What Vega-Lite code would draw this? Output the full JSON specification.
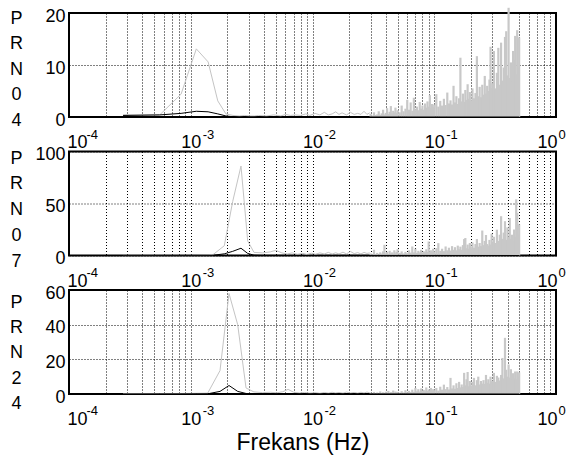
{
"$schema": "https://vega.github.io/schema/vega-lite/v6.json",
"background": "white",
"padding": {"left": 8, "top": 5, "right": 3, "bottom": 3},
"bounds": "flush",
"spacing": 34.5,
"config": {
  "font": "Liberation Sans",
  "view": {"stroke": "black", "strokeWidth": 2},
  "axis": {"labelColor": "#000", "titleColor": "#000", "labelFont": "Liberation Sans", "titleFont": "Liberation Sans", "gridColor": "#000", "gridDash": [1, 2], "gridOpacity": 1, "ticks": false, "tickSize": 0, "domain": false, "labelFontSize": 18, "titleFontWeight": "normal", "labelFlush": false, "labelOverlap": false}
},
"data": {"values": [
{"p":1,"s":"g","f":0.000278,"v":0.4},{"p":1,"s":"g","f":0.000556,"v":0.4},{"p":1,"s":"g","f":0.000833,"v":4.4},{"p":1,"s":"g","f":0.001111,"v":13.1},{"p":1,"s":"g","f":0.001389,"v":10.6},{"p":1,"s":"g","f":0.001667,"v":3.1},{"p":1,"s":"g","f":0.001944,"v":0.6},{"p":1,"s":"g","f":0.002222,"v":0.3},{"p":1,"s":"g","f":0.0025,"v":0.2},{"p":1,"s":"g","f":0.002778,"v":0.3},{"p":1,"s":"g","f":0.003056,"v":0.2},{"p":1,"s":"g","f":0.003333,"v":0.2},
{"p":1,"s":"g","f":0.0036,"v":0.3},{"p":1,"s":"g","f":0.0042,"v":0.2},{"p":1,"s":"g","f":0.0048,"v":0.4},{"p":1,"s":"g","f":0.0055,"v":0.2},{"p":1,"s":"g","f":0.006,"v":0.5},{"p":1,"s":"g","f":0.0066,"v":0.3},{"p":1,"s":"g","f":0.0072,"v":0.4},{"p":1,"s":"g","f":0.008,"v":0.3},{"p":1,"s":"g","f":0.0088,"v":0.6},{"p":1,"s":"g","f":0.0095,"v":0.3},{"p":1,"s":"g","f":0.0105,"v":0.7},{"p":1,"s":"g","f":0.0115,"v":0.4},{"p":1,"s":"g","f":0.0125,"v":0.9},{"p":1,"s":"g","f":0.0135,"v":0.4},{"p":1,"s":"g","f":0.0145,"v":0.6},{"p":1,"s":"g","f":0.0155,"v":1.0},{"p":1,"s":"g","f":0.0165,"v":0.5},{"p":1,"s":"g","f":0.0175,"v":0.8},{"p":1,"s":"g","f":0.019,"v":0.4},{"p":1,"s":"g","f":0.0205,"v":0.9},{"p":1,"s":"g","f":0.022,"v":0.5},{"p":1,"s":"g","f":0.0235,"v":0.7},{"p":1,"s":"g","f":0.025,"v":0.5},{"p":1,"s":"g","f":0.0265,"v":1.1},{"p":1,"s":"g","f":0.028,"v":0.5},{"p":1,"s":"g","f":0.0295,"v":0.8},
{"p":1,"s":"k","f":0.000278,"v":0.3},{"p":1,"s":"k","f":0.000556,"v":0.4},{"p":1,"s":"k","f":0.000833,"v":0.7},{"p":1,"s":"k","f":0.001111,"v":1.1},{"p":1,"s":"k","f":0.001389,"v":1.0},{"p":1,"s":"k","f":0.001667,"v":0.6},{"p":1,"s":"k","f":0.001944,"v":0.2},{"p":1,"s":"k","f":0.002222,"v":0.05},{"p":1,"s":"k","f":0.0025,"v":0},{"p":1,"s":"k","f":0.5,"v":0},
{"p":1,"s":"r","f":0.030,"v":0.6},{"p":1,"s":"r","f":0.031,"v":0.3},{"p":1,"s":"r","f":0.032,"v":0.9},{"p":1,"s":"r","f":0.033,"v":0.4},{"p":1,"s":"r","f":0.034,"v":0.5},{"p":1,"s":"r","f":0.035,"v":1.1},{"p":1,"s":"r","f":0.036,"v":0.4},{"p":1,"s":"r","f":0.037,"v":0.7},{"p":1,"s":"r","f":0.038,"v":1.4},{"p":1,"s":"r","f":0.039,"v":0.5},{"p":1,"s":"r","f":0.040,"v":0.8},{"p":1,"s":"r","f":0.041,"v":1.7},{"p":1,"s":"r","f":0.042,"v":0.6},{"p":1,"s":"r","f":0.043,"v":1.0},{"p":1,"s":"r","f":0.044,"v":2.1},{"p":1,"s":"r","f":0.045,"v":0.7},{"p":1,"s":"r","f":0.046,"v":1.2},{"p":1,"s":"r","f":0.047,"v":0.9},{"p":1,"s":"r","f":0.048,"v":1.8},{"p":1,"s":"r","f":0.049,"v":0.8},
{"p":1,"s":"r","f":0.050,"v":1.3},{"p":1,"s":"r","f":0.052,"v":0.9},{"p":1,"s":"r","f":0.054,"v":2.2},{"p":1,"s":"r","f":0.056,"v":1.1},{"p":1,"s":"r","f":0.058,"v":1.6},{"p":1,"s":"r","f":0.060,"v":3.3},{"p":1,"s":"r","f":0.062,"v":1.4},{"p":1,"s":"r","f":0.064,"v":2.8},{"p":1,"s":"r","f":0.066,"v":1.2},{"p":1,"s":"r","f":0.068,"v":3.7},{"p":1,"s":"r","f":0.070,"v":1.5},{"p":1,"s":"r","f":0.072,"v":2.0},{"p":1,"s":"r","f":0.074,"v":1.3},{"p":1,"s":"r","f":0.076,"v":2.9},{"p":1,"s":"r","f":0.078,"v":1.6},{"p":1,"s":"r","f":0.080,"v":2.2},{"p":1,"s":"r","f":0.082,"v":1.4},{"p":1,"s":"r","f":0.084,"v":2.6},{"p":1,"s":"r","f":0.086,"v":1.8},{"p":1,"s":"r","f":0.088,"v":3.0},{"p":1,"s":"r","f":0.090,"v":2.0},{"p":1,"s":"r","f":0.092,"v":4.2},{"p":1,"s":"r","f":0.094,"v":1.7},{"p":1,"s":"r","f":0.096,"v":2.5},{"p":1,"s":"r","f":0.098,"v":1.9},
{"p":1,"s":"r","f":0.100,"v":2.4},{"p":1,"s":"r","f":0.104,"v":4.4},{"p":1,"s":"r","f":0.108,"v":2.0},{"p":1,"s":"r","f":0.112,"v":3.1},{"p":1,"s":"r","f":0.116,"v":2.2},{"p":1,"s":"r","f":0.120,"v":3.5},{"p":1,"s":"r","f":0.124,"v":2.3},{"p":1,"s":"r","f":0.128,"v":4.7},{"p":1,"s":"r","f":0.132,"v":2.6},{"p":1,"s":"r","f":0.136,"v":3.2},{"p":1,"s":"r","f":0.140,"v":2.4},{"p":1,"s":"r","f":0.144,"v":6.0},{"p":1,"s":"r","f":0.148,"v":2.8},{"p":1,"s":"r","f":0.152,"v":4.0},{"p":1,"s":"r","f":0.156,"v":2.5},{"p":1,"s":"r","f":0.160,"v":3.6},{"p":1,"s":"r","f":0.164,"v":11.4},{"p":1,"s":"r","f":0.168,"v":3.0},{"p":1,"s":"r","f":0.172,"v":4.5},{"p":1,"s":"r","f":0.176,"v":2.9},{"p":1,"s":"r","f":0.180,"v":5.2},{"p":1,"s":"r","f":0.184,"v":3.3},{"p":1,"s":"r","f":0.188,"v":6.3},{"p":1,"s":"r","f":0.192,"v":3.5},{"p":1,"s":"r","f":0.196,"v":4.8},
{"p":1,"s":"r","f":0.200,"v":3.2},{"p":1,"s":"r","f":0.206,"v":5.5},{"p":1,"s":"r","f":0.212,"v":3.6},{"p":1,"s":"r","f":0.218,"v":4.6},{"p":1,"s":"r","f":0.224,"v":11.7},{"p":1,"s":"r","f":0.230,"v":4.0},{"p":1,"s":"r","f":0.236,"v":5.8},{"p":1,"s":"r","f":0.242,"v":3.8},{"p":1,"s":"r","f":0.248,"v":6.2},{"p":1,"s":"r","f":0.254,"v":4.3},{"p":1,"s":"r","f":0.260,"v":7.9},{"p":1,"s":"r","f":0.266,"v":4.5},{"p":1,"s":"r","f":0.272,"v":6.0},{"p":1,"s":"r","f":0.278,"v":5.0},{"p":1,"s":"r","f":0.284,"v":7.2},{"p":1,"s":"r","f":0.290,"v":13.5},{"p":1,"s":"r","f":0.296,"v":5.6},
{"p":1,"s":"r","f":0.300,"v":6.5},{"p":1,"s":"r","f":0.309,"v":12.7},{"p":1,"s":"r","f":0.318,"v":5.5},{"p":1,"s":"r","f":0.327,"v":8.5},{"p":1,"s":"r","f":0.336,"v":13.3},{"p":1,"s":"r","f":0.345,"v":6.2},{"p":1,"s":"r","f":0.354,"v":14.3},{"p":1,"s":"r","f":0.363,"v":7.0},{"p":1,"s":"r","f":0.372,"v":9.5},{"p":1,"s":"r","f":0.381,"v":15.4},{"p":1,"s":"r","f":0.390,"v":16.5},{"p":1,"s":"r","f":0.399,"v":8.0},{"p":1,"s":"r","f":0.408,"v":21.0},{"p":1,"s":"r","f":0.417,"v":7.5},{"p":1,"s":"r","f":0.426,"v":10.5},{"p":1,"s":"r","f":0.435,"v":6.8},{"p":1,"s":"r","f":0.444,"v":12.7},{"p":1,"s":"r","f":0.453,"v":11.0},{"p":1,"s":"r","f":0.462,"v":15.6},{"p":1,"s":"r","f":0.471,"v":8.2},{"p":1,"s":"r","f":0.480,"v":16.7},{"p":1,"s":"r","f":0.489,"v":9.5},{"p":1,"s":"r","f":0.498,"v":15.3},

{"p":2,"s":"g","f":0.000278,"v":0.3},{"p":2,"s":"g","f":0.000556,"v":0.3},{"p":2,"s":"g","f":0.000833,"v":0.3},{"p":2,"s":"g","f":0.001111,"v":0.3},{"p":2,"s":"g","f":0.001389,"v":0.4},{"p":2,"s":"g","f":0.001515,"v":0.6},{"p":2,"s":"g","f":0.001886,"v":9.4},{"p":2,"s":"g","f":0.002211,"v":52},{"p":2,"s":"g","f":0.002586,"v":86},{"p":2,"s":"g","f":0.002936,"v":14},{"p":2,"s":"g","f":0.003307,"v":3},
{"p":2,"s":"g","f":0.0039,"v":2.5},{"p":2,"s":"g","f":0.0045,"v":3.5},{"p":2,"s":"g","f":0.005,"v":5},{"p":2,"s":"g","f":0.0056,"v":2.5},{"p":2,"s":"g","f":0.0062,"v":1.5},{"p":2,"s":"g","f":0.0068,"v":2.5},{"p":2,"s":"g","f":0.0075,"v":1.2},{"p":2,"s":"g","f":0.0083,"v":2.0},{"p":2,"s":"g","f":0.009,"v":1.0},{"p":2,"s":"g","f":0.0098,"v":2.2},{"p":2,"s":"g","f":0.0106,"v":1.2},{"p":2,"s":"g","f":0.0115,"v":2.5},{"p":2,"s":"g","f":0.0125,"v":1.5},{"p":2,"s":"g","f":0.0135,"v":3.0},{"p":2,"s":"g","f":0.0145,"v":1.4},{"p":2,"s":"g","f":0.0155,"v":2.6},{"p":2,"s":"g","f":0.0165,"v":1.5},{"p":2,"s":"g","f":0.0178,"v":3.2},{"p":2,"s":"g","f":0.019,"v":1.6},{"p":2,"s":"g","f":0.0205,"v":3.9},{"p":2,"s":"g","f":0.022,"v":1.8},{"p":2,"s":"g","f":0.0235,"v":2.8},{"p":2,"s":"g","f":0.025,"v":1.5},{"p":2,"s":"g","f":0.0265,"v":3.0},{"p":2,"s":"g","f":0.028,"v":2.0},{"p":2,"s":"g","f":0.0295,"v":2.5},
{"p":2,"s":"k","f":0.000278,"v":0.1},{"p":2,"s":"k","f":0.0015,"v":0.1},{"p":2,"s":"k","f":0.001886,"v":1.6},{"p":2,"s":"k","f":0.002211,"v":4},{"p":2,"s":"k","f":0.002586,"v":7},{"p":2,"s":"k","f":0.002936,"v":2},{"p":2,"s":"k","f":0.003307,"v":0.3},{"p":2,"s":"k","f":0.0039,"v":0.1},{"p":2,"s":"k","f":0.5,"v":0},
{"p":2,"s":"r","f":0.030,"v":2.0},{"p":2,"s":"r","f":0.031,"v":1.2},{"p":2,"s":"r","f":0.032,"v":5.5},{"p":2,"s":"r","f":0.033,"v":1.5},{"p":2,"s":"r","f":0.034,"v":2.5},{"p":2,"s":"r","f":0.035,"v":1.0},{"p":2,"s":"r","f":0.036,"v":3.0},{"p":2,"s":"r","f":0.037,"v":1.8},{"p":2,"s":"r","f":0.038,"v":4.0},{"p":2,"s":"r","f":0.039,"v":10.3},{"p":2,"s":"r","f":0.040,"v":2.0},{"p":2,"s":"r","f":0.041,"v":3.5},{"p":2,"s":"r","f":0.042,"v":1.5},{"p":2,"s":"r","f":0.043,"v":4.5},{"p":2,"s":"r","f":0.044,"v":2.0},{"p":2,"s":"r","f":0.045,"v":3.0},{"p":2,"s":"r","f":0.046,"v":1.8},{"p":2,"s":"r","f":0.047,"v":5.0},{"p":2,"s":"r","f":0.048,"v":2.2},{"p":2,"s":"r","f":0.049,"v":3.5},
{"p":2,"s":"r","f":0.050,"v":6.0},{"p":2,"s":"r","f":0.052,"v":2.5},{"p":2,"s":"r","f":0.054,"v":4.0},{"p":2,"s":"r","f":0.056,"v":2.0},{"p":2,"s":"r","f":0.058,"v":3.5},{"p":2,"s":"r","f":0.060,"v":2.2},{"p":2,"s":"r","f":0.062,"v":5.0},{"p":2,"s":"r","f":0.064,"v":2.8},{"p":2,"s":"r","f":0.066,"v":8.7},{"p":2,"s":"r","f":0.068,"v":3.0},{"p":2,"s":"r","f":0.070,"v":6.5},{"p":2,"s":"r","f":0.072,"v":2.5},{"p":2,"s":"r","f":0.074,"v":4.5},{"p":2,"s":"r","f":0.076,"v":3.0},{"p":2,"s":"r","f":0.078,"v":5.5},{"p":2,"s":"r","f":0.080,"v":2.8},{"p":2,"s":"r","f":0.082,"v":4.0},{"p":2,"s":"r","f":0.084,"v":3.2},{"p":2,"s":"r","f":0.086,"v":6.0},{"p":2,"s":"r","f":0.088,"v":3.5},{"p":2,"s":"r","f":0.090,"v":13.5},{"p":2,"s":"r","f":0.092,"v":3.8},{"p":2,"s":"r","f":0.094,"v":5.0},{"p":2,"s":"r","f":0.096,"v":3.2},{"p":2,"s":"r","f":0.098,"v":6.5},
{"p":2,"s":"r","f":0.100,"v":4.0},{"p":2,"s":"r","f":0.104,"v":7.0},{"p":2,"s":"r","f":0.108,"v":11.9},{"p":2,"s":"r","f":0.112,"v":4.5},{"p":2,"s":"r","f":0.116,"v":6.5},{"p":2,"s":"r","f":0.120,"v":4.2},{"p":2,"s":"r","f":0.124,"v":8.7},{"p":2,"s":"r","f":0.128,"v":5.0},{"p":2,"s":"r","f":0.132,"v":7.5},{"p":2,"s":"r","f":0.136,"v":4.8},{"p":2,"s":"r","f":0.140,"v":9.0},{"p":2,"s":"r","f":0.144,"v":5.5},{"p":2,"s":"r","f":0.148,"v":8.0},{"p":2,"s":"r","f":0.152,"v":5.0},{"p":2,"s":"r","f":0.156,"v":9.5},{"p":2,"s":"r","f":0.160,"v":6.0},{"p":2,"s":"r","f":0.164,"v":8.5},{"p":2,"s":"r","f":0.168,"v":5.5},{"p":2,"s":"r","f":0.172,"v":10.0},{"p":2,"s":"r","f":0.176,"v":15.8},{"p":2,"s":"r","f":0.180,"v":16.8},{"p":2,"s":"r","f":0.184,"v":7.0},{"p":2,"s":"r","f":0.188,"v":10.5},{"p":2,"s":"r","f":0.192,"v":6.5},{"p":2,"s":"r","f":0.196,"v":12.0},
{"p":2,"s":"r","f":0.200,"v":8.0},{"p":2,"s":"r","f":0.206,"v":12.5},{"p":2,"s":"r","f":0.212,"v":7.5},{"p":2,"s":"r","f":0.218,"v":11.0},{"p":2,"s":"r","f":0.224,"v":15.8},{"p":2,"s":"r","f":0.230,"v":8.5},{"p":2,"s":"r","f":0.236,"v":12.0},{"p":2,"s":"r","f":0.242,"v":9.0},{"p":2,"s":"r","f":0.248,"v":24.0},{"p":2,"s":"r","f":0.254,"v":10.0},{"p":2,"s":"r","f":0.260,"v":14.0},{"p":2,"s":"r","f":0.266,"v":19.7},{"p":2,"s":"r","f":0.272,"v":11.0},{"p":2,"s":"r","f":0.278,"v":9.5},{"p":2,"s":"r","f":0.284,"v":15.0},{"p":2,"s":"r","f":0.290,"v":10.5},{"p":2,"s":"r","f":0.296,"v":21.0},
{"p":2,"s":"r","f":0.300,"v":13.0},{"p":2,"s":"r","f":0.309,"v":18.0},{"p":2,"s":"r","f":0.318,"v":12.0},{"p":2,"s":"r","f":0.327,"v":24.8},{"p":2,"s":"r","f":0.336,"v":14.0},{"p":2,"s":"r","f":0.345,"v":20.0},{"p":2,"s":"r","f":0.354,"v":37.8},{"p":2,"s":"r","f":0.363,"v":16.0},{"p":2,"s":"r","f":0.372,"v":22.0},{"p":2,"s":"r","f":0.381,"v":33.0},{"p":2,"s":"r","f":0.390,"v":15.0},{"p":2,"s":"r","f":0.399,"v":27.0},{"p":2,"s":"r","f":0.408,"v":18.0},{"p":2,"s":"r","f":0.417,"v":36.0},{"p":2,"s":"r","f":0.426,"v":16.0},{"p":2,"s":"r","f":0.435,"v":20.0},{"p":2,"s":"r","f":0.444,"v":14.0},{"p":2,"s":"r","f":0.453,"v":25.0},{"p":2,"s":"r","f":0.462,"v":18.0},{"p":2,"s":"r","f":0.471,"v":54.0},{"p":2,"s":"r","f":0.480,"v":41.0},{"p":2,"s":"r","f":0.489,"v":20.0},{"p":2,"s":"r","f":0.498,"v":30.0},

{"p":3,"s":"g","f":0.000278,"v":0.3},{"p":3,"s":"g","f":0.000556,"v":0.3},{"p":3,"s":"g","f":0.000833,"v":0.3},{"p":3,"s":"g","f":0.001111,"v":0.4},{"p":3,"s":"g","f":0.001378,"v":0.5},{"p":3,"s":"g","f":0.001739,"v":13.5},{"p":3,"s":"g","f":0.002062,"v":58},{"p":3,"s":"g","f":0.00243,"v":40},{"p":3,"s":"g","f":0.002844,"v":3.5},{"p":3,"s":"g","f":0.0033,"v":1.2},
{"p":3,"s":"g","f":0.0039,"v":0.8},{"p":3,"s":"g","f":0.0045,"v":1.0},{"p":3,"s":"g","f":0.0051,"v":0.7},{"p":3,"s":"g","f":0.0057,"v":1.3},{"p":3,"s":"g","f":0.0063,"v":2.7},{"p":3,"s":"g","f":0.007,"v":1.0},{"p":3,"s":"g","f":0.0078,"v":0.6},{"p":3,"s":"g","f":0.0086,"v":0.9},{"p":3,"s":"g","f":0.0095,"v":0.5},{"p":3,"s":"g","f":0.0105,"v":0.8},{"p":3,"s":"g","f":0.0115,"v":0.4},{"p":3,"s":"g","f":0.0125,"v":0.9},{"p":3,"s":"g","f":0.0135,"v":0.5},{"p":3,"s":"g","f":0.0145,"v":1.0},{"p":3,"s":"g","f":0.0155,"v":0.6},{"p":3,"s":"g","f":0.0165,"v":0.9},{"p":3,"s":"g","f":0.0178,"v":0.5},{"p":3,"s":"g","f":0.019,"v":1.1},{"p":3,"s":"g","f":0.0205,"v":0.6},{"p":3,"s":"g","f":0.022,"v":0.9},{"p":3,"s":"g","f":0.0235,"v":0.5},{"p":3,"s":"g","f":0.025,"v":1.0},{"p":3,"s":"g","f":0.0265,"v":0.6},{"p":3,"s":"g","f":0.028,"v":1.1},{"p":3,"s":"g","f":0.0295,"v":0.7},
{"p":3,"s":"k","f":0.000278,"v":0.05},{"p":3,"s":"k","f":0.001378,"v":0.1},{"p":3,"s":"k","f":0.001739,"v":1.5},{"p":3,"s":"k","f":0.002062,"v":4.9},{"p":3,"s":"k","f":0.00243,"v":1.5},{"p":3,"s":"k","f":0.002844,"v":0.3},{"p":3,"s":"k","f":0.0033,"v":0.1},{"p":3,"s":"k","f":0.5,"v":0},
{"p":3,"s":"r","f":0.030,"v":0.8},{"p":3,"s":"r","f":0.031,"v":0.4},{"p":3,"s":"r","f":0.032,"v":1.2},{"p":3,"s":"r","f":0.033,"v":0.5},{"p":3,"s":"r","f":0.034,"v":0.9},{"p":3,"s":"r","f":0.035,"v":0.4},{"p":3,"s":"r","f":0.036,"v":1.5},{"p":3,"s":"r","f":0.037,"v":0.6},{"p":3,"s":"r","f":0.038,"v":1.0},{"p":3,"s":"r","f":0.039,"v":0.5},{"p":3,"s":"r","f":0.040,"v":1.3},{"p":3,"s":"r","f":0.041,"v":0.7},{"p":3,"s":"r","f":0.042,"v":1.8},{"p":3,"s":"r","f":0.043,"v":0.6},{"p":3,"s":"r","f":0.044,"v":1.1},{"p":3,"s":"r","f":0.045,"v":0.8},{"p":3,"s":"r","f":0.046,"v":2.0},{"p":3,"s":"r","f":0.047,"v":0.7},{"p":3,"s":"r","f":0.048,"v":1.4},{"p":3,"s":"r","f":0.049,"v":0.9},
{"p":3,"s":"r","f":0.050,"v":1.2},{"p":3,"s":"r","f":0.052,"v":0.8},{"p":3,"s":"r","f":0.054,"v":1.6},{"p":3,"s":"r","f":0.056,"v":0.9},{"p":3,"s":"r","f":0.058,"v":2.2},{"p":3,"s":"r","f":0.060,"v":1.0},{"p":3,"s":"r","f":0.062,"v":1.8},{"p":3,"s":"r","f":0.064,"v":1.1},{"p":3,"s":"r","f":0.066,"v":2.5},{"p":3,"s":"r","f":0.068,"v":1.2},{"p":3,"s":"r","f":0.070,"v":3.5},{"p":3,"s":"r","f":0.072,"v":1.5},{"p":3,"s":"r","f":0.074,"v":2.8},{"p":3,"s":"r","f":0.076,"v":1.4},{"p":3,"s":"r","f":0.078,"v":3.2},{"p":3,"s":"r","f":0.080,"v":1.6},{"p":3,"s":"r","f":0.082,"v":2.4},{"p":3,"s":"r","f":0.084,"v":1.5},{"p":3,"s":"r","f":0.086,"v":3.8},{"p":3,"s":"r","f":0.088,"v":1.8},{"p":3,"s":"r","f":0.090,"v":2.6},{"p":3,"s":"r","f":0.092,"v":1.7},{"p":3,"s":"r","f":0.094,"v":3.5},{"p":3,"s":"r","f":0.096,"v":2.0},{"p":3,"s":"r","f":0.098,"v":2.8},
{"p":3,"s":"r","f":0.100,"v":2.2},{"p":3,"s":"r","f":0.104,"v":3.5},{"p":3,"s":"r","f":0.108,"v":2.0},{"p":3,"s":"r","f":0.112,"v":4.2},{"p":3,"s":"r","f":0.116,"v":2.5},{"p":3,"s":"r","f":0.120,"v":5.4},{"p":3,"s":"r","f":0.124,"v":2.8},{"p":3,"s":"r","f":0.128,"v":4.0},{"p":3,"s":"r","f":0.132,"v":2.6},{"p":3,"s":"r","f":0.136,"v":9.3},{"p":3,"s":"r","f":0.140,"v":3.2},{"p":3,"s":"r","f":0.144,"v":5.0},{"p":3,"s":"r","f":0.148,"v":3.0},{"p":3,"s":"r","f":0.152,"v":6.2},{"p":3,"s":"r","f":0.156,"v":3.5},{"p":3,"s":"r","f":0.160,"v":7.0},{"p":3,"s":"r","f":0.164,"v":3.8},{"p":3,"s":"r","f":0.168,"v":5.5},{"p":3,"s":"r","f":0.172,"v":4.0},{"p":3,"s":"r","f":0.176,"v":12.2},{"p":3,"s":"r","f":0.180,"v":5.0},{"p":3,"s":"r","f":0.184,"v":8.5},{"p":3,"s":"r","f":0.188,"v":12.7},{"p":3,"s":"r","f":0.192,"v":4.5},{"p":3,"s":"r","f":0.196,"v":7.5},
{"p":3,"s":"r","f":0.200,"v":4.8},{"p":3,"s":"r","f":0.206,"v":7.0},{"p":3,"s":"r","f":0.212,"v":9.3},{"p":3,"s":"r","f":0.218,"v":5.0},{"p":3,"s":"r","f":0.224,"v":8.0},{"p":3,"s":"r","f":0.230,"v":10.0},{"p":3,"s":"r","f":0.236,"v":5.5},{"p":3,"s":"r","f":0.242,"v":7.5},{"p":3,"s":"r","f":0.248,"v":6.0},{"p":3,"s":"r","f":0.254,"v":8.0},{"p":3,"s":"r","f":0.260,"v":5.8},{"p":3,"s":"r","f":0.266,"v":11.0},{"p":3,"s":"r","f":0.272,"v":6.5},{"p":3,"s":"r","f":0.278,"v":8.5},{"p":3,"s":"r","f":0.284,"v":6.0},{"p":3,"s":"r","f":0.290,"v":10.0},{"p":3,"s":"r","f":0.296,"v":7.0},
{"p":3,"s":"r","f":0.300,"v":7.5},{"p":3,"s":"r","f":0.309,"v":12.2},{"p":3,"s":"r","f":0.318,"v":7.0},{"p":3,"s":"r","f":0.327,"v":10.5},{"p":3,"s":"r","f":0.336,"v":9.5},{"p":3,"s":"r","f":0.345,"v":7.8},{"p":3,"s":"r","f":0.354,"v":11.0},{"p":3,"s":"r","f":0.363,"v":20.8},{"p":3,"s":"r","f":0.372,"v":9.0},{"p":3,"s":"r","f":0.381,"v":32.4},{"p":3,"s":"r","f":0.390,"v":14.0},{"p":3,"s":"r","f":0.399,"v":10.0},{"p":3,"s":"r","f":0.408,"v":17.0},{"p":3,"s":"r","f":0.417,"v":9.5},{"p":3,"s":"r","f":0.426,"v":14.3},{"p":3,"s":"r","f":0.435,"v":8.5},{"p":3,"s":"r","f":0.444,"v":12.0},{"p":3,"s":"r","f":0.453,"v":9.0},{"p":3,"s":"r","f":0.462,"v":13.0},{"p":3,"s":"r","f":0.471,"v":8.5},{"p":3,"s":"r","f":0.480,"v":13.0},{"p":3,"s":"r","f":0.489,"v":10.0},{"p":3,"s":"r","f":0.498,"v":12.5}
]},
"vconcat": [
{
  "width": 487, "height": 104,
  "transform": [{"filter": "datum.p == 1"}],
  "resolve": {"axis": {"x": "independent"}},
  "encoding": {
    "y": {"field": "v", "type": "quantitative", "scale": {"domain": [0, 20], "nice": false},
      "axis": {"values": [0, 10, 20], "title": ["P","R","N","0","4"], "titleAngle": 0, "titleFontSize": 18, "titleLineHeight": 25.5, "titleX": -53, "titleY": 5, "titleAlign": "center", "titleBaseline": "middle", "labelPadding": 4, "labelOffset": 3}}
  },
  "layer": [
    {"transform": [{"filter": "datum.s == 'r'"}], "mark": {"type": "rule", "color": "#c8c8c8", "strokeWidth": 2.2},
     "encoding": {"y2": {"datum": 0},
      "x": {"field": "f", "type": "quantitative", "scale": {"type": "log", "domain": [0.0001, 1], "nice": false},
        "axis": {"orient": "bottom", "title": null, "values": [0.0001,0.0002,0.0003,0.0004,0.0005,0.0006,0.0007,0.0008,0.0009,0.001,0.002,0.003,0.004,0.005,0.006,0.007,0.008,0.009,0.01,0.02,0.03,0.04,0.05,0.06,0.07,0.08,0.09,0.1,0.2,0.3,0.4,0.5,0.6,0.7,0.8,0.9,1],
          "labelExpr": "abs(log(datum.value)/LN10 - round(log(datum.value)/LN10)) < 0.01 ? '10' : ''",
          "labelAlign": "center", "labelBaseline": "alphabetic", "labelPadding": 30.5,
          "labelOffset": {"condition": [{"test": "datum.value < 0.0002", "value": 8}, {"test": "datum.value > 0.5", "value": -9}], "value": 0}}}}},
    {"transform": [{"filter": "datum.s == 'g'"}], "mark": {"type": "line", "color": "#c4c4c4", "strokeWidth": 1},
     "encoding": {"x": {"field": "f", "type": "quantitative", "scale": {"type": "log", "domain": [0.0001, 1], "nice": false}, "axis": null}}},
    {"transform": [{"filter": "datum.s == 'k'"}], "mark": {"type": "line", "color": "#000", "strokeWidth": 1},
     "encoding": {"x": {"field": "f", "type": "quantitative", "scale": {"type": "log", "domain": [0.0001, 1], "nice": false},
        "axis": {"orient": "bottom", "title": null, "grid": false, "values": [0.0001,0.001,0.01,0.1,1],
          "labelExpr": "['0','-1','-2','-3','-4'][-round(log(datum.value)/LN10)]",
          "labelFontSize": 13, "labelAlign": "left", "labelBaseline": "alphabetic", "labelPadding": 21,
          "labelOffset": {"condition": [{"test": "datum.value < 0.0002", "value": 17}, {"test": "datum.value > 0.5", "value": 2}], "value": 11.5}}}}}
  ]
},
{
  "width": 487, "height": 104,
  "transform": [{"filter": "datum.p == 2"}],
  "resolve": {"axis": {"x": "independent"}},
  "encoding": {
    "y": {"field": "v", "type": "quantitative", "scale": {"domain": [0, 100], "nice": false},
      "axis": {"values": [0, 50, 100], "title": ["P","R","N","0","7"], "titleAngle": 0, "titleFontSize": 18, "titleLineHeight": 25.8, "titleX": -53, "titleY": 6.5, "titleAlign": "center", "titleBaseline": "middle", "labelPadding": 4, "labelOffset": 3}}
  },
  "layer": [
    {"transform": [{"filter": "datum.s == 'r'"}], "mark": {"type": "rule", "color": "#c8c8c8", "strokeWidth": 2.2},
     "encoding": {"y2": {"datum": 0},
      "x": {"field": "f", "type": "quantitative", "scale": {"type": "log", "domain": [0.0001, 1], "nice": false},
        "axis": {"orient": "bottom", "title": null, "values": [0.0001,0.0002,0.0003,0.0004,0.0005,0.0006,0.0007,0.0008,0.0009,0.001,0.002,0.003,0.004,0.005,0.006,0.007,0.008,0.009,0.01,0.02,0.03,0.04,0.05,0.06,0.07,0.08,0.09,0.1,0.2,0.3,0.4,0.5,0.6,0.7,0.8,0.9,1],
          "labelExpr": "abs(log(datum.value)/LN10 - round(log(datum.value)/LN10)) < 0.01 ? '10' : ''",
          "labelAlign": "center", "labelBaseline": "alphabetic", "labelPadding": 30.5,
          "labelOffset": {"condition": [{"test": "datum.value < 0.0002", "value": 8}, {"test": "datum.value > 0.5", "value": -9}], "value": 0}}}}},
    {"transform": [{"filter": "datum.s == 'g'"}], "mark": {"type": "line", "color": "#c4c4c4", "strokeWidth": 1},
     "encoding": {"x": {"field": "f", "type": "quantitative", "scale": {"type": "log", "domain": [0.0001, 1], "nice": false}, "axis": null}}},
    {"transform": [{"filter": "datum.s == 'k'"}], "mark": {"type": "line", "color": "#000", "strokeWidth": 1},
     "encoding": {"x": {"field": "f", "type": "quantitative", "scale": {"type": "log", "domain": [0.0001, 1], "nice": false},
        "axis": {"orient": "bottom", "title": null, "grid": false, "values": [0.0001,0.001,0.01,0.1,1],
          "labelExpr": "['0','-1','-2','-3','-4'][-round(log(datum.value)/LN10)]",
          "labelFontSize": 13, "labelAlign": "left", "labelBaseline": "alphabetic", "labelPadding": 21,
          "labelOffset": {"condition": [{"test": "datum.value < 0.0002", "value": 17}, {"test": "datum.value > 0.5", "value": 2}], "value": 11.5}}}}}
  ]
},
{
  "width": 487, "height": 104,
  "transform": [{"filter": "datum.p == 3"}],
  "resolve": {"axis": {"x": "independent"}},
  "encoding": {
    "y": {"field": "v", "type": "quantitative", "scale": {"domain": [0, 60], "nice": false},
      "axis": {"values": [0, 20, 40, 60], "title": ["P","R","N","2","4"], "titleAngle": 0, "titleFontSize": 18, "titleLineHeight": 25.4, "titleX": -53, "titleY": 12, "titleAlign": "center", "titleBaseline": "middle", "labelPadding": 4, "labelOffset": 3}}
  },
  "layer": [
    {"transform": [{"filter": "datum.s == 'r'"}], "mark": {"type": "rule", "color": "#c8c8c8", "strokeWidth": 2.2},
     "encoding": {"y2": {"datum": 0},
      "x": {"field": "f", "type": "quantitative", "scale": {"type": "log", "domain": [0.0001, 1], "nice": false},
        "axis": {"orient": "bottom", "title": "Frekans (Hz)", "titleFontSize": 23, "titleX": 233.5, "titleY": 55.5, "titleAlign": "center", "titleBaseline": "alphabetic",
          "values": [0.0001,0.0002,0.0003,0.0004,0.0005,0.0006,0.0007,0.0008,0.0009,0.001,0.002,0.003,0.004,0.005,0.006,0.007,0.008,0.009,0.01,0.02,0.03,0.04,0.05,0.06,0.07,0.08,0.09,0.1,0.2,0.3,0.4,0.5,0.6,0.7,0.8,0.9,1],
          "labelExpr": "abs(log(datum.value)/LN10 - round(log(datum.value)/LN10)) < 0.01 ? '10' : ''",
          "labelAlign": "center", "labelBaseline": "alphabetic", "labelPadding": 30,
          "labelOffset": {"condition": [{"test": "datum.value < 0.0002", "value": 8}, {"test": "datum.value > 0.5", "value": -9}], "value": 0}}}}},
    {"transform": [{"filter": "datum.s == 'g'"}], "mark": {"type": "line", "color": "#c4c4c4", "strokeWidth": 1},
     "encoding": {"x": {"field": "f", "type": "quantitative", "scale": {"type": "log", "domain": [0.0001, 1], "nice": false}, "axis": null}}},
    {"transform": [{"filter": "datum.s == 'k'"}], "mark": {"type": "line", "color": "#000", "strokeWidth": 1},
     "encoding": {"x": {"field": "f", "type": "quantitative", "scale": {"type": "log", "domain": [0.0001, 1], "nice": false},
        "axis": {"orient": "bottom", "title": null, "grid": false, "values": [0.0001,0.001,0.01,0.1,1],
          "labelExpr": "['0','-1','-2','-3','-4'][-round(log(datum.value)/LN10)]",
          "labelFontSize": 13, "labelAlign": "left", "labelBaseline": "alphabetic", "labelPadding": 20.5,
          "labelOffset": {"condition": [{"test": "datum.value < 0.0002", "value": 17}, {"test": "datum.value > 0.5", "value": 2}], "value": 11.5}}}}}
  ]
}
]
}
